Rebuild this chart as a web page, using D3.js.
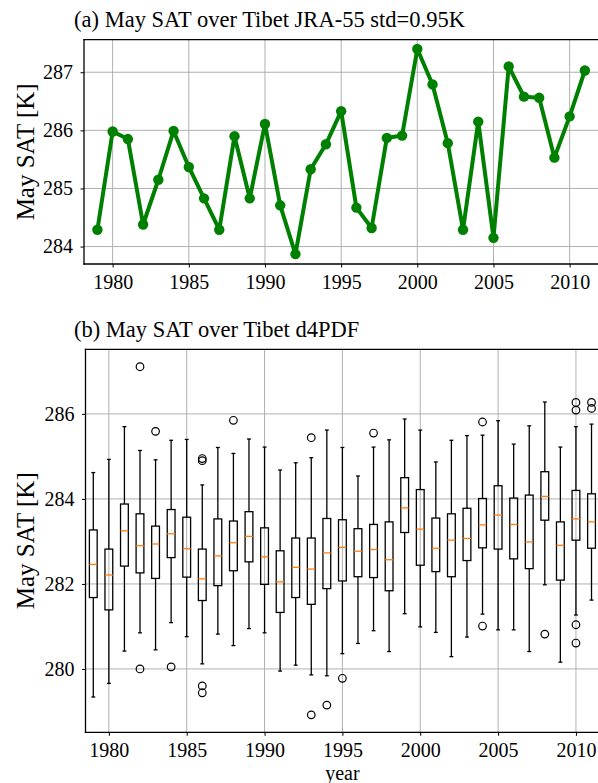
<!DOCTYPE html>
<html>
<head>
<meta charset="utf-8">
<script src="https://cdn.jsdelivr.net/npm/d3@7/dist/d3.min.js"></script>
<style>
  html, body { margin: 0; padding: 0; background: #fff; overflow: hidden; }
  svg { display: block; }
  svg text { font-family: "Liberation Serif", "DejaVu Serif", serif; fill: #000; }
</style>
</head>
<body>
<div id="chart"></div>
<script>
// years 1979..2011
var years = d3.range(1979, 2012);

// (a) JRA-55 May SAT
var jraSat = [284.29, 285.98, 285.85, 284.38, 285.15, 285.99, 285.37, 284.83, 284.29, 285.90,
              284.83, 286.11, 284.71, 283.87, 285.33, 285.76, 286.33, 284.67, 284.32, 285.87,
              285.91, 287.40, 286.79, 285.78, 284.29, 286.15, 284.15, 287.10, 286.58, 286.56,
              285.53, 286.24, 287.03];

// (b) d4PDF box stats
var whiskLo = [279.34, 279.66, 280.42, 280.85, 280.45, 281.09, 280.76, 280.12, 280.82, 280.55,
               280.95, 280.85, 279.95, 280.09, 279.86, 279.84, 280.36, 280.60, 280.90, 280.41,
               281.30, 280.99, 280.86, 280.29, 280.75, 281.29, 280.92, 280.92, 280.41, 281.98,
               280.16, 281.27, 281.62];
var q1 = [281.68, 281.39, 282.42, 282.26, 282.13, 282.62, 282.16, 281.61, 281.96, 282.31,
          282.52, 281.99, 281.33, 281.68, 281.52, 281.89, 282.07, 282.17, 282.15, 281.84,
          283.21, 282.44, 282.29, 282.17, 282.55, 282.85, 282.82, 282.59, 282.36, 283.50,
          282.09, 283.03, 282.84];
var med = [282.46, 282.21, 283.25, 282.90, 282.94, 283.18, 282.83, 282.12, 282.66, 282.97,
           283.12, 282.64, 282.05, 282.39, 282.35, 282.73, 282.86, 282.77, 282.81, 282.57,
           283.79, 283.29, 282.84, 283.03, 283.07, 283.39, 283.62, 283.40, 282.99, 284.06,
           282.91, 283.53, 283.46];
var q3 = [283.27, 282.82, 283.88, 283.65, 283.36, 283.75, 283.57, 282.82, 283.53, 283.48,
          283.70, 283.32, 282.78, 283.08, 283.08, 283.54, 283.51, 283.30, 283.40, 283.46,
          284.50, 284.22, 283.55, 283.65, 283.78, 284.01, 284.31, 284.02, 284.09, 284.64,
          283.46, 284.20, 284.12];
var whiskHi = [284.62, 284.93, 285.70, 285.14, 284.92, 285.38, 285.40, 284.33, 285.21, 285.07,
               285.41, 285.22, 284.68, 284.85, 284.97, 285.62, 285.21, 284.54, 285.22, 285.39,
               285.88, 285.62, 284.87, 285.38, 285.49, 285.50, 285.84, 285.29, 285.72, 286.28,
               285.22, 285.70, 285.76];
// [year, value]
var fliers = [[1982, 287.11], [1982, 280.00], [1983, 285.59], [1984, 280.05],
              [1986, 284.95], [1986, 284.90], [1986, 279.60], [1986, 279.44],
              [1988, 285.85], [1993, 285.44], [1993, 278.92], [1994, 279.15],
              [1995, 279.78], [1997, 285.55], [2004, 285.81], [2004, 281.01],
              [2008, 280.82], [2010, 286.27], [2010, 286.09], [2010, 281.04],
              [2010, 280.61], [2011, 286.27], [2011, 286.13]];

var xTicks = [1980, 1985, 1990, 1995, 2000, 2005, 2010];
var yTicksA = [284, 285, 286, 287];
var yTicksB = [280, 282, 284, 286];

var W = 598, H = 783;
var svg = d3.select('#chart').append('svg').attr('width', W).attr('height', H);

// right edge of both axes lies just past the picture
var panelA = {left: 84, right: 599.2, top: 39.7, bottom: 264};
var panelB = {left: 85.5, right: 599.3, top: 349.3, bottom: 732.3};

var xa = d3.scaleLinear().domain([1978.12, 2011.94]).range([panelA.left, panelA.right]);
var ya = d3.scaleLinear().domain([283.70, 287.56]).range([panelA.bottom, panelA.top]);
var xb = d3.scaleLinear().domain([1978.5, 2011.5]).range([panelB.left, panelB.right]);
var yb = d3.scaleLinear().domain([278.51, 287.52]).range([panelB.bottom, panelB.top]);

function drawFrame(p, x, y, yTicks, title, titleLen) {
    var g = svg.append('g');
    // grid
    g.selectAll('.vg').data(xTicks).enter().append('line')
        .attr('x1', d => x(d)).attr('x2', d => x(d))
        .attr('y1', p.top).attr('y2', p.bottom)
        .attr('stroke', '#b0b0b0').attr('stroke-width', 1);
    g.selectAll('.hg').data(yTicks).enter().append('line')
        .attr('x1', p.left).attr('x2', W + 5)
        .attr('y1', d => y(d)).attr('y2', d => y(d))
        .attr('stroke', '#b0b0b0').attr('stroke-width', 1);

    var t = svg.append('text')
        .attr('x', 74).attr('y', p.top - 12.5)
        .style('font-size', '22.5px')
        .text(title);
    if (titleLen) t.attr('textLength', titleLen).attr('lengthAdjust', 'spacing');

    svg.append('text')
        .attr('transform', 'translate(34,' + ((p.top + p.bottom) / 2) + ') rotate(-90)')
        .attr('text-anchor', 'middle')
        .style('font-size', '25px')
        .text('May SAT [K]');
    return g;
}

function drawAxes(p, x, y, yTicks) {
    var xAxis = svg.append('g')
        .attr('transform', 'translate(0,' + p.bottom + ')')
        .call(d3.axisBottom(x).tickValues(xTicks).tickFormat(d3.format('d')).tickSize(3.5).tickPadding(7.5));
    var yAxis = svg.append('g')
        .attr('transform', 'translate(' + p.left + ',0)')
        .call(d3.axisLeft(y).tickValues(yTicks).tickFormat(d3.format('d')).tickSize(3.5).tickPadding(7.5));
    [xAxis, yAxis].forEach(function (a) {
        a.select('.domain').remove();
        a.selectAll('.tick line').attr('stroke', '#000').attr('stroke-width', 1);
        a.selectAll('.tick text').style('font-size', '20px')
            .style('font-family', '"Liberation Serif", "DejaVu Serif", serif');
    });
    // spines: left, top, bottom (right one falls outside the picture)
    var spines = [[p.left, p.top, p.left, p.bottom],
                  [p.left, p.top, W + 5, p.top],
                  [p.left, p.bottom, W + 5, p.bottom]];
    svg.append('g').selectAll('line').data(spines).enter().append('line')
        .attr('x1', d => d[0]).attr('y1', d => d[1]).attr('x2', d => d[2]).attr('y2', d => d[3])
        .attr('stroke', '#000').attr('stroke-width', 1.3).attr('stroke-linecap', 'square');
}

// panel (a)
var ga = drawFrame(panelA, xa, ya, yTicksA, '(a) May SAT over Tibet JRA-55 std=0.95K', 391);
var line = d3.line().x((d, i) => xa(years[i])).y(d => ya(d));
ga.append('path').datum(jraSat)
    .attr('d', line)
    .attr('fill', 'none').attr('stroke', '#008000').attr('stroke-width', 4)
    .attr('stroke-linejoin', 'round');
ga.selectAll('.pt').data(jraSat).enter().append('circle')
    .attr('cx', (d, i) => xa(years[i])).attr('cy', d => ya(d))
    .attr('r', 5.2).attr('fill', '#008000');
drawAxes(panelA, xa, ya, yTicksA);

// panel (b)
var gb = drawFrame(panelB, xb, yb, yTicksB, '(b) May SAT over Tibet d4PDF', null);
var boxW = 0.5, capW = 0.25;
var boxes = gb.selectAll('.box').data(years).enter().append('g').attr('class', 'box');
boxes.append('line') // lower whisker
    .attr('x1', d => xb(d)).attr('x2', d => xb(d))
    .attr('y1', (d, i) => yb(q1[i])).attr('y2', (d, i) => yb(whiskLo[i]));
boxes.append('line') // upper whisker
    .attr('x1', d => xb(d)).attr('x2', d => xb(d))
    .attr('y1', (d, i) => yb(q3[i])).attr('y2', (d, i) => yb(whiskHi[i]));
boxes.append('line')
    .attr('x1', d => xb(d - capW / 2)).attr('x2', d => xb(d + capW / 2))
    .attr('y1', (d, i) => yb(whiskLo[i])).attr('y2', (d, i) => yb(whiskLo[i]));
boxes.append('line')
    .attr('x1', d => xb(d - capW / 2)).attr('x2', d => xb(d + capW / 2))
    .attr('y1', (d, i) => yb(whiskHi[i])).attr('y2', (d, i) => yb(whiskHi[i]));
boxes.selectAll('line').attr('stroke', '#000').attr('stroke-width', 1.3);
boxes.append('rect')
    .attr('x', d => xb(d - boxW / 2)).attr('width', d => xb(d + boxW / 2) - xb(d - boxW / 2))
    .attr('y', (d, i) => yb(q3[i])).attr('height', (d, i) => yb(q1[i]) - yb(q3[i]))
    .attr('fill', 'none').attr('stroke', '#000').attr('stroke-width', 1.3);
boxes.append('line')
    .attr('x1', d => xb(d - boxW / 2)).attr('x2', d => xb(d + boxW / 2))
    .attr('y1', (d, i) => yb(med[i])).attr('y2', (d, i) => yb(med[i]))
    .attr('stroke', '#ff7f0e').attr('stroke-width', 1.3);
gb.selectAll('.flier').data(fliers).enter().append('circle')
    .attr('cx', d => xb(d[0])).attr('cy', d => yb(d[1]))
    .attr('r', 3.8).attr('fill', 'none').attr('stroke', '#000').attr('stroke-width', 1.2);
drawAxes(panelB, xb, yb, yTicksB);

svg.append('text')
    .attr('x', (panelB.left + panelB.right) / 2).attr('y', 780)
    .attr('text-anchor', 'middle')
    .style('font-size', '20px')
    .text('year');
</script>
</body>
</html>
